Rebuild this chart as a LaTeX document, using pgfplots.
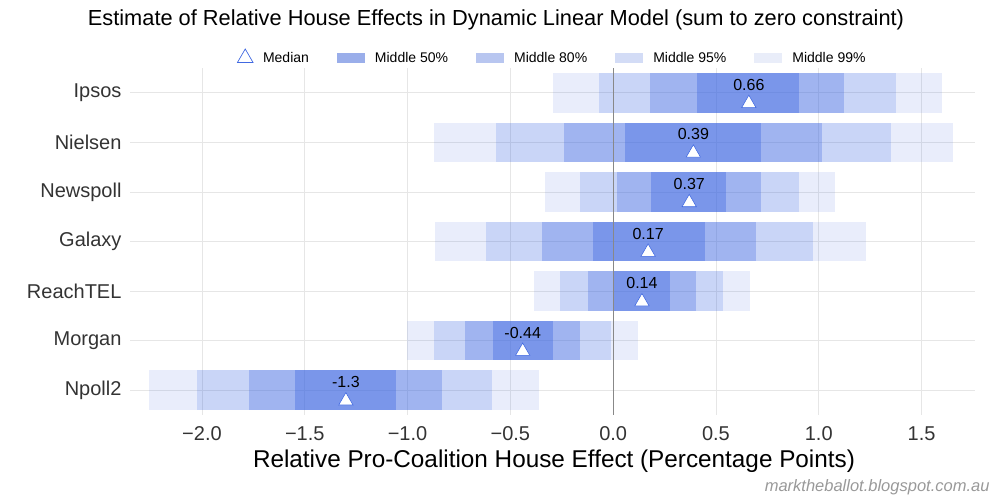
\documentclass[border=0pt]{standalone}
\usepackage{fontspec}
\setmainfont{Liberation Sans}
\usepackage{pgfplots}
\usepackage{pgfplotstable}
\pgfplotsset{compat=1.18}

\definecolor{royal}{HTML}{4169E1}
\definecolor{gridc}{HTML}{E6E6E6}
\definecolor{labc}{HTML}{333333}
\definecolor{zeroc}{HTML}{888888}
\definecolor{leg50}{HTML}{9AAEEA}
\definecolor{leg80}{HTML}{B8C6F0}
\definecolor{leg95}{HTML}{D3DCF6}
\definecolor{leg99}{HTML}{E9EDF9}

\pgfplotsset{patch legend/.style={legend image code/.code={\fill[##1, draw=none] (0pt,-5pt) rectangle (28pt,5pt);}}}

% quantiles of the house effect for each pollster
\pgfplotstableread{
name     y  l99    l95    l80    l50    med   h50    h80    h95    h99   lab
Ipsos    6 -0.292 -0.068  0.180  0.409  0.66  0.905  1.124  1.377  1.601 0.66
Nielsen  5 -0.871 -0.569 -0.237  0.058  0.39  0.720  1.017  1.353  1.655 0.39
Newspoll 4 -0.331 -0.161  0.019  0.185  0.37  0.550  0.720  0.905  1.080 0.37
Galaxy   3 -0.866 -0.618 -0.345 -0.097  0.17  0.448  0.696  0.973  1.231 0.17
ReachTEL 2 -0.384 -0.258 -0.122  0.000  0.14  0.277  0.404  0.535  0.667 0.14
Morgan   1 -1.001 -0.871 -0.720 -0.584 -0.44 -0.292 -0.161 -0.010  0.122 -0.44
Npoll2   0 -2.258 -2.024 -1.771 -1.547 -1.30 -1.056 -0.832 -0.589 -0.360 -1.3
}\house

\begin{document}
\begin{tikzpicture}[x=1pt,y=1pt]
\begin{axis}[
    at={(130pt,85pt)}, anchor=south west,
    scale only axis, width=845pt, height=347pt,
    xmin=-2.35, xmax=1.76, ymin=-0.5, ymax=6.5,
    axis line style={draw=none},
    major tick length=0pt,
    grid=major,
    grid style={gridc, line width=0.8pt},
    xtick={-2,-1.5,-1,-0.5,0,0.5,1,1.5},
    xticklabels={−2.0,−1.5,−1.0,−0.5,0.0,0.5,1.0,1.5},
    ytick={0,1,2,3,4,5,6},
    yticklabels={Npoll2,Morgan,ReachTEL,Galaxy,Newspoll,Nielsen,Ipsos},
    tick label style={font=\fontsize{20}{22}\selectfont, text=labc},
    xticklabel style={yshift=-8pt},
    yticklabel style={xshift=-5pt},
    legend style={at={(0.5,1)}, anchor=south, yshift=0pt, draw=none, fill=none,
        legend columns=5, font=\fontsize{14}{16}\selectfont,
        /tikz/every odd column/.append style={column sep=8pt},
        /tikz/every even column/.append style={column sep=26pt}},
  ]

  \addlegendimage{only marks, mark=triangle, mark size=9pt, mark options={draw=royal, line width=0.7pt}}
  \addlegendentry{Median}
  \addlegendimage{patch legend, fill=leg50}
  \addlegendentry{Middle 50\%}
  \addlegendimage{patch legend, fill=leg80}
  \addlegendentry{Middle 80\%}
  \addlegendimage{patch legend, fill=leg95}
  \addlegendentry{Middle 95\%}
  \addlegendimage{patch legend, fill=leg99}
  \addlegendentry{Middle 99\%}

  % interval layers, widest first
  \addplot[forget plot, draw=none, error bars/.cd, x dir=both, x explicit, error mark=none,
      error bar style={line width=39.5pt, draw=royal, draw opacity=0.116}]
    table[x=med, y=y, x error plus expr=\thisrow{h99}-\thisrow{med}, x error minus expr=\thisrow{med}-\thisrow{l99}] {\house};
  \addplot[forget plot, draw=none, error bars/.cd, x dir=both, x explicit, error mark=none,
      error bar style={line width=39.5pt, draw=royal, draw opacity=0.19}]
    table[x=med, y=y, x error plus expr=\thisrow{h95}-\thisrow{med}, x error minus expr=\thisrow{med}-\thisrow{l95}] {\house};
  \addplot[forget plot, draw=none, error bars/.cd, x dir=both, x explicit, error mark=none,
      error bar style={line width=39.5pt, draw=royal, draw opacity=0.30}]
    table[x=med, y=y, x error plus expr=\thisrow{h80}-\thisrow{med}, x error minus expr=\thisrow{med}-\thisrow{l80}] {\house};
  \addplot[forget plot, draw=none, error bars/.cd, x dir=both, x explicit, error mark=none,
      error bar style={line width=39.5pt, draw=royal, draw opacity=0.40}]
    table[x=med, y=y, x error plus expr=\thisrow{h50}-\thisrow{med}, x error minus expr=\thisrow{med}-\thisrow{l50}] {\house};

  \draw[zeroc, line width=0.9pt] (axis cs:0,-0.5) -- (axis cs:0,6.5);

  % medians and their labels
  \addplot[forget plot, only marks, mark=triangle*, mark size=8.3pt,
      mark options={fill=white, draw=royal, line width=0.6pt}]
    table[x=med, y expr=\thisrow{y}-0.215] {\house};
  \addplot[forget plot, only marks, mark=none, nodes near coords, point meta=explicit symbolic,
      nodes near coords style={font=\fontsize{16}{18}\selectfont, anchor=center, text=black}]
    table[x=med, y expr=\thisrow{y}+0.16, meta=lab] {\house};
\end{axis}

\node[font=\fontsize{21.8}{24}\selectfont] at (496pt,480pt)
  {Estimate of Relative House Effects in Dynamic Linear Model (sum to zero constraint)};
\node[font=\fontsize{24.3}{26}\selectfont] at (554pt,39pt)
  {Relative Pro-Coalition House Effect (Percentage Points)};
\node[anchor=east, font=\itshape\fontsize{16.5}{18}\selectfont, text=gray!80] at (993pt,13pt)
  {marktheballot.blogspot.com.au};
\path (0,0) rectangle (1000pt,500pt);
\end{tikzpicture}
\end{document}
